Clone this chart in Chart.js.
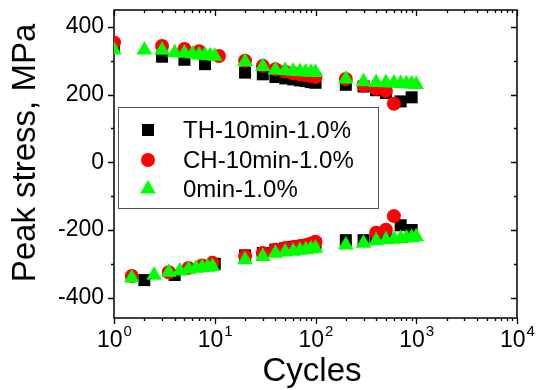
<!DOCTYPE html>
<html>
<head>
<meta charset="utf-8">
<script src="https://cdn.jsdelivr.net/npm/chart.js@4"></script>
<style>
  html, body { margin: 0; padding: 0; background: #fff; }
  canvas { display: block; }
</style>
</head>
<body>
<canvas id="chart" width="536" height="390"></canvas>
<script>
// ================================================================
// Data
// ================================================================
const thUpCycles = [1, 3, 5, 8, 20, 30, 40, 50, 60, 70, 80, 90, 100, 200, 300, 400, 500, 700, 900];
const thUpStress = [345, 312, 303, 290, 265, 260, 252, 248, 245, 242, 240, 237, 235, 229, 224, 213, 205, 180, 192];
const thDownCycles = [2, 4, 10, 20, 30, 40, 50, 60, 70, 80, 90, 100, 200, 300, 400, 500, 700, 900];
const thDownStress = [-348, -333, -300, -275, -268, -258, -254, -250, -248, -245, -243, -240, -230, -230, -222, -212, -186, -200];

const chUpCycles = [1, 3, 5, 7, 11, 20, 30, 40, 50, 60, 70, 80, 90, 100, 200, 300, 400, 500, 600];
const chUpStress = [354, 344, 335, 328, 314, 300, 285, 275, 268, 263, 260, 257, 255, 252, 246, 226, 217, 211, 173];
const chDownCycles = [1.5, 3.5, 5.5, 7.5, 9.5, 20, 30, 40, 50, 60, 70, 80, 90, 100, 400, 500, 600];
const chDownStress = [-336, -325, -312, -305, -297, -277, -268, -258, -253, -250, -247, -244, -240, -235, -208, -199, -159];

const zeroUpCycles = [1, 2, 3, 4, 5, 6, 7, 8, 9, 10, 20, 30, 40, 50, 60, 70, 80, 90, 100, 200, 300, 400, 500, 600, 700, 800, 900, 1000];
const zeroUpStress = [332, 332, 331, 324, 322, 320, 317, 316, 315, 313, 297, 283, 273, 271, 269, 268, 267, 266, 265, 246, 238, 236, 235, 234, 233, 232, 231, 230];
const zeroDownCycles = [1.5, 2.5, 3.5, 4.5, 5.5, 6.5, 7.5, 8.5, 9.5, 20, 30, 40, 50, 60, 70, 80, 90, 100, 200, 300, 400, 500, 600, 700, 800, 900, 1000];
const zeroDownStress = [-342, -334, -325, -321, -316, -313, -311, -310, -308, -288, -278, -269, -265, -263, -260, -258, -256, -254, -244, -239, -232, -229, -227, -225, -224, -222, -220];

const seriesNames = ['TH-10min-1.0%', 'CH-10min-1.0%', '0min-1.0%'];
const xTickExponents = [0, 1, 2, 3, 4];
const yTickValues = [-400, -200, 0, 200, 400];

const FONT = "'Liberation Sans', Arial, sans-serif";

function toPoints(cycles, stress) {
    return cycles.map((c, i) => ({ x: c, y: stress[i] }));
}

// ================================================================
// Frame, tick marks, x labels with superscripts, titles, legend
// ================================================================
const axesFrame = {
    id: 'axesFrame',
    beforeDatasetsDraw(chart) {
        const { ctx, chartArea: a, scales: { x, y } } = chart;
        ctx.save();
        ctx.strokeStyle = '#000';
        ctx.lineWidth = 1.3;
        ctx.beginPath();
        // x ticks (log decades + minors)
        for (let e = 0; e <= 4; e++) {
            for (let m = 1; m <= 9; m++) {
                const v = m * Math.pow(10, e);
                if (v > 10000) break;
                const px = Math.round(x.getPixelForValue(v)) + 0.5;
                const len = m === 1 ? 6 : 3;
                ctx.moveTo(px, a.bottom); ctx.lineTo(px, a.bottom + len);
                ctx.moveTo(px, a.top); ctx.lineTo(px, a.top + len);
            }
        }
        // y ticks
        for (let v = -400; v <= 400; v += 100) {
            const py = Math.round(y.getPixelForValue(v)) + 0.5;
            const len = v % 200 === 0 ? 6 : 3;
            ctx.moveTo(a.left, py); ctx.lineTo(a.left - len, py);
            ctx.moveTo(a.right, py); ctx.lineTo(a.right - len, py);
        }
        ctx.stroke();
        ctx.lineWidth = 1.5;
        ctx.strokeRect(a.left, a.top, a.right - a.left, a.bottom - a.top);

        // x tick labels 10^n
        ctx.fillStyle = '#000';
        ctx.textBaseline = 'alphabetic';
        ctx.textAlign = 'left';
        xTickExponents.forEach(n => {
            const px = x.getPixelForValue(Math.pow(10, n));
            ctx.font = `23px ${FONT}`;
            const wBase = ctx.measureText('10').width;
            ctx.font = `15px ${FONT}`;
            const wExp = ctx.measureText(String(n)).width;
            const start = px - (wBase + wExp) / 2;
            ctx.font = `23px ${FONT}`;
            ctx.fillText('10', start, 347);
            ctx.font = `15px ${FONT}`;
            ctx.fillText(String(n), start + wBase + 1, 336);
        });

        // axis titles
        ctx.font = `33px ${FONT}`;
        ctx.textAlign = 'center';
        ctx.textBaseline = 'alphabetic';
        ctx.fillText('Cycles', 312, 381);
        ctx.save();
        ctx.translate(35, 153);
        ctx.rotate(-Math.PI / 2);
        ctx.fillText('Peak stress, MPa', 0, 0);
        ctx.restore();
        ctx.restore();
    },
    afterDraw(chart) {
        const { ctx } = chart;
        ctx.save();
        // legend box
        ctx.fillStyle = '#fff';
        ctx.fillRect(118, 107, 260, 101);
        ctx.strokeStyle = '#555';
        ctx.lineWidth = 1;
        ctx.strokeRect(118.5, 107.5, 260, 101);
        const rows = [130, 160, 189];
        chart.data.datasets.slice().sort((p, q) => p.legendIndex - q.legendIndex).forEach((ds, i) => {
            ctx.fillStyle = ds.backgroundColor;
            ctx.strokeStyle = ds.borderColor;
            Chart.helpers.drawPoint(ctx, {
                pointStyle: ds.pointStyle,
                radius: ds.pointRadius,
                borderWidth: 0,
                rotation: 0
            }, 148, rows[i]);
            ctx.fillStyle = '#000';
            ctx.font = `24px ${FONT}`;
            ctx.textBaseline = 'middle';
            ctx.textAlign = 'left';
            ctx.fillText(seriesNames[i], 183, rows[i] + 1);
        });
        ctx.restore();
    }
};

// ================================================================
// Chart
// ================================================================
const ctx = document.getElementById('chart').getContext('2d');

const datasets = [
    {
        label: seriesNames[0], legendIndex: 0, order: 3,
        data: toPoints(thUpCycles, thUpStress).concat(toPoints(thDownCycles, thDownStress)),
        pointStyle: 'rect', pointRadius: 8.5,
        backgroundColor: '#000000', borderColor: '#000000', borderWidth: 0
    },
    {
        label: seriesNames[1], legendIndex: 1, order: 2,
        data: toPoints(chUpCycles, chUpStress).concat(toPoints(chDownCycles, chDownStress)),
        pointStyle: 'circle', pointRadius: 7,
        backgroundColor: '#ff0000', borderColor: '#ff0000', borderWidth: 0
    },
    {
        label: seriesNames[2], legendIndex: 2, order: 1,
        data: toPoints(zeroUpCycles, zeroUpStress).concat(toPoints(zeroDownCycles, zeroDownStress)),
        pointStyle: 'triangle', pointRadius: 9,
        backgroundColor: '#00ff00', borderColor: '#00ff00', borderWidth: 0
    }
];

new Chart(ctx, {
    type: 'scatter',
    data: { datasets: datasets },
    options: {
        responsive: false,
        animation: false,
        layout: { padding: { top: 10, right: 19, left: 0, bottom: 0 } },
        plugins: {
            legend: { display: false },
            tooltip: { enabled: false }
        },
        elements: { point: { hoverRadius: 0 } },
        scales: {
            x: {
                type: 'logarithmic',
                min: 1,
                max: 10000,
                grid: { display: false, drawTicks: false },
                border: { display: false },
                ticks: { display: false },
                afterFit(scale) {
                    scale.height = 72;
                    scale.paddingLeft = 0;
                    scale.paddingRight = 0;
                }
            },
            y: {
                min: -460,
                max: 450,
                grid: { display: false, drawTicks: false },
                border: { display: false },
                afterBuildTicks(scale) { scale.ticks = yTickValues.map(v => ({ value: v })); },
                ticks: {
                    color: '#000',
                    padding: 10,
                    font: { size: 23, family: FONT }
                },
                afterFit(scale) {
                    scale.width = 114;
                    scale.paddingTop = 0;
                    scale.paddingBottom = 0;
                }
            }
        }
    },
    plugins: [axesFrame]
});
</script>
</body>
</html>
